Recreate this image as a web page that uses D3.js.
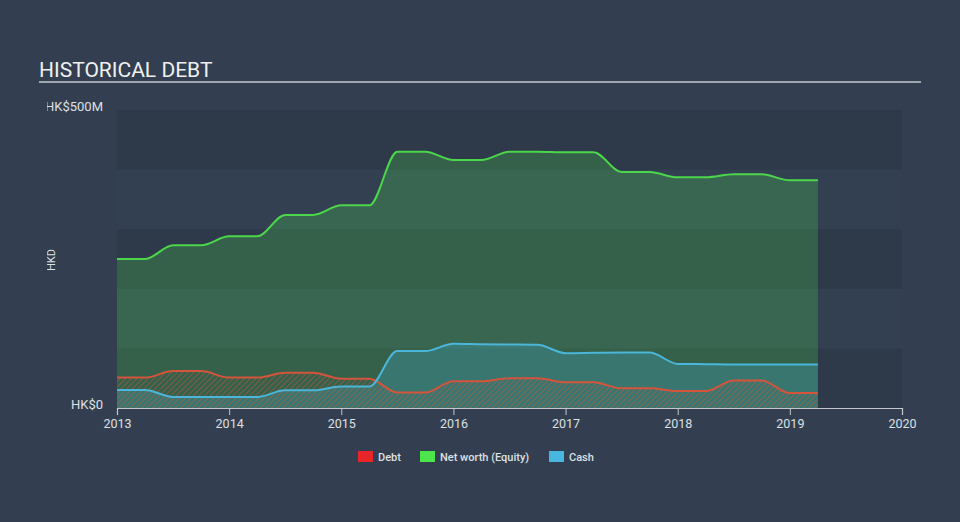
<!DOCTYPE html>
<html>
<head>
<meta charset="utf-8">
<script src="https://cdn.jsdelivr.net/npm/d3@7"></script>
<style>
  html, body { margin: 0; padding: 0; background: #333f50; }
  svg { display: block; font-family: Roboto, "Open Sans", sans-serif; }
</style>
</head>
<body>
<svg id="chart" width="960" height="522"></svg>
<script>
// ---- data (HK$ millions, quarterly dates) ----
const dates = [2013.0, 2013.25, 2013.5, 2013.75, 2014.0, 2014.25, 2014.5, 2014.75,
  2015.0, 2015.25, 2015.5, 2015.75, 2016.0, 2016.25, 2016.5, 2016.75,
  2017.0, 2017.25, 2017.5, 2017.75, 2018.0, 2018.25, 2018.5, 2018.75, 2019.0, 2019.25];
const netWorth = [250, 250, 273, 273, 288, 288, 324, 324, 340, 340, 430, 430, 416, 416, 430, 430,
  429, 429, 396, 396, 387, 387, 392, 392, 382, 382];
const debt = [51, 51, 62, 62, 51, 51, 59, 59, 49, 49, 26, 26, 45, 45, 50, 50,
  43, 43, 33, 33, 28.5, 28.5, 46, 46, 25, 25];
const cash = [30, 30, 18.5, 18.5, 18.5, 18.5, 29.7, 29.7, 36, 36, 95.6, 95.6, 108, 107, 106.5, 106,
  92, 92.5, 93, 93, 74, 73.5, 73, 73, 73, 73];
const xTicks = [2013, 2014, 2015, 2016, 2017, 2018, 2019, 2020];
const yTickLabels = ["HK$0", "HK$500M"];
const legendItems = ["Debt", "Net worth (Equity)", "Cash"];

const svg = d3.select("#chart");
const x = d3.scaleLinear().domain([2013, 2020]).range([117, 902]);
const y = d3.scaleLinear().domain([0, 500]).range([408, 110]);

// background bands
const bands = d3.range(0, 500, 100);
svg.append("g").selectAll("rect").data(bands).join("rect")
  .attr("x", x(2013)).attr("width", x(2020) - x(2013))
  .attr("y", d => y(d + 100)).attr("height", d => y(d) - y(d + 100))
  .attr("fill", (d, i) => i % 2 === 0 ? "#2e3a4a" : "#334052");

// title
svg.append("text").attr("x", 39).attr("y", 77).text("HISTORICAL DEBT")
  .attr("fill", "#f0f0f0").attr("font-size", 21);
svg.append("line").attr("x1", 39).attr("x2", 921).attr("y1", 82).attr("y2", 82)
  .attr("stroke", "#c4c8cc").attr("stroke-width", 1.5);

// hatch pattern
const defs = svg.append("defs");
const pat = defs.append("pattern").attr("id", "hatch").attr("patternUnits", "userSpaceOnUse")
  .attr("width", 4).attr("height", 4).attr("patternTransform", "rotate(45)");
pat.append("line").attr("x1", 0).attr("y1", 0).attr("x2", 0).attr("y2", 4)
  .attr("stroke", "#d0573e").attr("stroke-width", 1.3).attr("stroke-opacity", 0.75);
defs.append("clipPath").attr("id", "ylabclip").append("rect")
  .attr("x", 47).attr("y", 0).attr("width", 100).attr("height", 522);

const data = dates.map((d, i) => ({ d, nw: netWorth[i], debt: debt[i], cash: cash[i] }));
const curve = d3.curveMonotoneX;
const area = key => d3.area().curve(curve).x(d => x(d.d)).y0(y(0)).y1(d => y(d[key]));
const line = key => d3.line().curve(curve).x(d => x(d.d)).y(d => y(d[key]));

svg.append("path").datum(data).attr("d", area("nw")).attr("fill", "#4cd64c").attr("fill-opacity", 0.25);
svg.append("path").datum(data).attr("d", area("cash")).attr("fill", "#47b7e0").attr("fill-opacity", 0.25);
svg.append("path").datum(data).attr("d", area("debt")).attr("fill", "url(#hatch)");

svg.append("path").datum(data).attr("d", line("nw")).attr("fill", "none")
  .attr("stroke", "#4cd64c").attr("stroke-width", 2);
svg.append("path").datum(data).attr("d", line("debt")).attr("fill", "none")
  .attr("stroke", "#d4543c").attr("stroke-width", 2);
svg.append("path").datum(data).attr("d", line("cash")).attr("fill", "none")
  .attr("stroke", "#4ab6da").attr("stroke-width", 2);

// x axis
const xAxis = d3.axisBottom(x).tickValues(xTicks).tickFormat(d3.format("d")).tickSize(7).tickPadding(4);
const gx = svg.append("g").attr("transform", `translate(0,${y(0)})`).call(xAxis);
gx.select(".domain").attr("stroke", "#c4c8cc").attr("stroke-width", 1.2);
gx.selectAll(".tick line").attr("stroke", "#c4c8cc");
gx.selectAll("text").attr("fill", "#dde0e4").attr("font-size", 12.5).attr("font-family", "Roboto, sans-serif");

// y labels
const gy = svg.append("g").attr("clip-path", "url(#ylabclip)");
gy.selectAll("text").data([0, 500]).join("text")
  .attr("x", 103).attr("y", d => y(d)).attr("dy", d => d === 0 ? "0.05em" : "0.1em")
  .attr("text-anchor", "end").attr("fill", "#dde0e4").attr("font-size", 13)
  .text((d, i) => yTickLabels[i]);
gy.append("text").attr("transform", "translate(55,260) rotate(-90)")
  .attr("text-anchor", "middle").attr("fill", "#dde0e4").attr("font-size", 11).text("HKD");

// legend
const legColors = ["#e8262a", "#4ce64c", "#47b7e0"];
const legX = [358, 420, 549];
const lg = svg.append("g");
legendItems.forEach((t, i) => {
  lg.append("rect").attr("x", legX[i]).attr("y", 451).attr("width", 15).attr("height", 11).attr("fill", legColors[i]);
  lg.append("text").attr("x", legX[i] + 20).attr("y", 460.5).text(t)
    .attr("fill", "#dde0e4").attr("font-size", 11).attr("font-weight", 500);
});
</script>
</body>
</html>
